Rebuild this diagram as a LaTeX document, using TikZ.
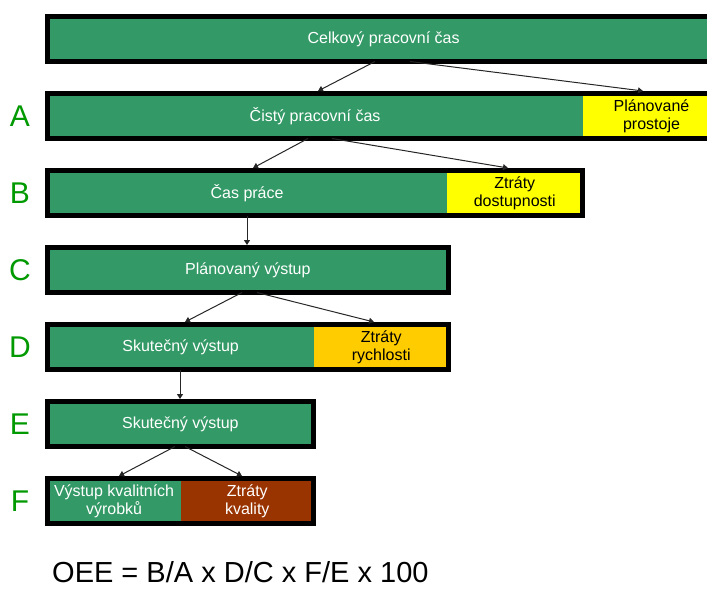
\documentclass[tikz,border=0pt]{standalone}
\usepackage{fontspec}
\setmainfont{Liberation Sans}
\usetikzlibrary{arrows.meta,calc}
\definecolor{oeegreen}{HTML}{339966}
\definecolor{oeeyellow}{HTML}{FFFF00}
\definecolor{oeeorange}{HTML}{FFCC00}
\definecolor{oeebrown}{HTML}{993300}
\definecolor{lettergreen}{HTML}{009900}
\begin{document}
\begin{tikzpicture}[x=1pt,y=-1pt,
  seg/.style={inner sep=0pt, outer sep=0pt, anchor=north west, minimum height=45pt,
              align=center, font=\fontsize{16}{18}\selectfont},
  gseg/.style={seg, fill=oeegreen, text=white},
  yseg/.style={seg, fill=oeeyellow, text=black},
  oseg/.style={seg, fill=oeeorange, text=black},
  bseg/.style={seg, fill=oeebrown, text=white},
  frame/.style={draw=black, line width=5pt},
  conn/.style={draw=black!85, line width=1pt, -{Triangle[width=6pt,length=5pt]}},
  letter/.style={text=lettergreen, font=\fontsize{30}{32}\selectfont, inner sep=0pt}
]
\useasboundingbox (0,0) rectangle (707,589);

% segments
\node[gseg, minimum width=672.8pt] (gT) at (47.2,16.5) {Celkový pracovní čas};

\node[gseg, minimum width=535.8pt] (gA) at (47.2,93.5) {Čistý pracovní čas};
\node[yseg, minimum width=137pt] (yA) at (583,93.5) {Plánované\\prostoje};

\node[gseg, minimum width=399.8pt] (gB) at (47.2,170.5) {Čas práce};
\node[yseg, minimum width=135.5pt] (yB) at (447,170.5) {Ztráty\\dostupnosti};

\node[gseg, minimum width=401.3pt] (gC) at (47.2,247.5) {Plánovaný výstup};

\node[gseg, minimum width=266.8pt] (gD) at (47.2,324.5) {Skutečný výstup};
\node[oseg, minimum width=134.5pt] (oD) at (314,324.5) {Ztráty\\rychlosti};

\node[gseg, minimum width=266.3pt] (gE) at (47.2,401.5) {Skutečný výstup};

\node[gseg, minimum width=133.8pt] (gF) at (47.2,478.5) {Výstup kvalitních\\výrobků};
\node[bseg, minimum width=132.5pt] (bF) at (181,478.5) {Ztráty\\kvality};

% frames
\draw[frame] (gT.north west) rectangle (gT.south east);
\draw[frame] (gA.north west) rectangle (yA.south east);
\draw[frame] (gB.north west) rectangle (yB.south east);
\draw[frame] (gC.north west) rectangle (gC.south east);
\draw[frame] (gD.north west) rectangle (oD.south east);
\draw[frame] (gE.north west) rectangle (gE.south east);
\draw[frame] (gF.north west) rectangle (bF.south east);

% connectors
\draw[conn] ($(gT.south west)+(327.8,0)$) -- ($(gA.north west)+(270.8,-2.5)$);
\draw[conn] ($(gT.south west)+(362.8,0)$) -- ($(yA.north west)+(60,-2.5)$);

\draw[conn] ($(gA.south west)+(260.8,0)$) -- ($(gB.north west)+(205.8,-2.5)$);
\draw[conn] ($(gA.south west)+(284.8,0)$) -- ($(yB.north west)+(61,-2.5)$);

\draw[conn] ($(gB.south west)+(199.8,0)$) -- ($(gC.north west)+(199.8,-2.5)$);

\draw[conn] ($(gC.south west)+(194.8,0)$) -- ($(gD.north west)+(137.8,-2.5)$);
\draw[conn] ($(gC.south west)+(209.8,0)$) -- ($(oD.north west)+(60,-2.5)$);

\draw[conn] ($(gD.south west)+(132.8,0)$) -- ($(gE.north west)+(132.8,-2.5)$);

\draw[conn] ($(gE.south west)+(127.8,0)$) -- ($(gF.north west)+(71.8,-2.5)$);
\draw[conn] ($(gE.south west)+(137.8,0)$) -- ($(bF.north west)+(61,-2.5)$);

% row letters
\node[letter] (lA) at (20,116) {A};
\node[letter] (lB) at (20,193) {B};
\node[letter] (lC) at (20,270) {C};
\node[letter] (lD) at (20,347) {D};
\node[letter] (lE) at (20,424) {E};
\node[letter] (lF) at (20,501) {F};

% formula
\node[anchor=base west, inner sep=0pt, font=\fontsize{29}{30}\selectfont] (oee) at (52,582) {OEE = B/A x D/C x F/E x 100};
\end{tikzpicture}
\end{document}
